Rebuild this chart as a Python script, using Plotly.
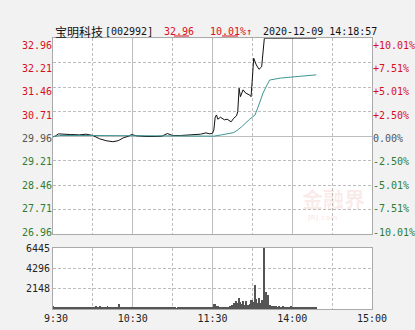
import plotly.graph_objects as go

# ---------------- data ----------------
stock_name = "宝明科技"
stock_code = "[002992]"
last_price = "32.96"
change_pct = "10.01%↑"
timestamp = "2020-12-09 14:18:57"
prev_close = 29.96

price_ticks = [26.96, 27.71, 28.46, 29.21, 29.96, 30.71, 31.46, 32.21, 32.96]
pct_labels = ["-10.01%", "-7.51%", "-5.01%", "-2.50%", "0.00%", "+2.50%", "+5.01%", "+7.51%", "+10.01%"]
vol_ticks = [2148, 4296, 6445]
time_tickvals = [0, 60, 120, 180, 240]
time_labels = ["\u00a09:30", "10:30", "11:30", "14:00", "15:00"]
time_minor = [30, 90, 150, 210]

# minute index (0 = 9:30, 120 = 11:30/13:00, 240 = 15:00)
price_t = [0, 2, 4, 8, 13, 20, 25, 30, 35, 40, 45, 49, 53, 57, 59, 63, 70, 78, 82, 86,
           90, 96, 103, 111, 115, 118, 120, 121, 122, 123, 124, 126, 129, 131, 134, 136, 138, 139, 140, 141,
           143, 145, 148, 149, 150, 151, 153, 154, 155, 157, 158, 159, 198]
price_v = [29.94, 29.97, 30.03, 30.03, 30.01, 30.00, 30.02, 29.98, 29.88, 29.82,
           29.79, 29.82, 29.91, 29.96, 30.01, 29.97, 29.95, 29.95, 29.96, 30.04,
           29.98, 29.98, 29.99, 30.02, 30.06, 30.03, 30.05, 30.15, 30.54, 30.61,
           30.48, 30.54, 30.46, 30.48, 30.40, 30.51, 30.58, 30.71, 31.43, 31.17,
           31.38, 31.28, 31.22, 31.17, 31.74, 32.35, 32.14, 32.09, 32.01, 32.09,
           32.45, 32.96, 32.96]

avg_t = [0, 5, 30, 60, 90, 120, 121, 127, 136, 139, 142, 148, 152, 154, 156, 158, 161, 163, 171, 186, 198]
avg_v = [29.94, 29.98, 29.98, 29.97, 29.96, 29.96, 29.96, 30.00, 30.07, 30.15, 30.25,
         30.48, 30.61, 30.82, 31.05, 31.28, 31.53, 31.68, 31.74, 31.79, 31.84]

vol_morning = [330, 260, 220, 200, 210, 190, 200, 180, 210, 220,
               190, 200, 170, 180, 210, 190, 200, 220, 180, 190,
               210, 230, 200, 250, 220, 240, 210, 260, 230, 220,
               250, 240, 270, 230, 260, 280, 250, 240, 260, 230,
               250, 270, 240, 260, 230, 220, 240, 250, 230, 260,
               560, 240, 230, 220, 210, 200, 220, 190, 210, 200,
               180, 190, 200, 170, 180, 190, 160, 180, 170, 150,
               160, 150, 140, 160, 150, 130, 140, 150, 120, 140,
               130, 150, 120, 140, 110, 130, 150, 120, 140, 130,
               110, 120, 140, 100, 130, 120, 110, 140, 120, 150,
               130, 120, 110, 140, 150, 130, 170, 120, 140, 160,
               150, 140, 170, 130, 160, 180, 150, 200, 170, 190,
               210]
vol_afternoon = [560, 480, 350, 300, 250, 200, 220, 180, 200, 230,
                 210, 260, 300, 350, 420, 630, 500, 810, 600, 1160,
                 700, 560, 810, 460, 810, 350, 420, 500, 990, 920,
                 700, 2570, 1060, 630, 1160, 600, 990, 700, 6445, 1760,
                 810, 1515, 460, 300, 280, 350, 260, 300, 240, 280,
                 220, 260, 300, 240, 220, 260, 200, 240, 280, 220,
                 260, 200, 240, 220, 260, 200, 230, 210, 250, 200,
                 220, 240, 200, 220, 180, 210, 190, 200]

volumes = vol_morning + vol_afternoon
vol_x = list(range(len(volumes)))

# ---------------- style ----------------
W, H = 415, 330
RED = "#d8101e"
GREEN = "#2f7d32"
GRAY_T = "#555555"
GRID = "#bdbdbd"
BORDER = "#aaaaaa"
MONO = "DejaVu Sans Mono"
CJK = "Noto Sans CJK SC"

def colored(v, text):
    if v > prev_close + 1e-9:
        c = RED
    elif v < prev_close - 1e-9:
        c = GREEN
    else:
        c = GRAY_T
    return f"<span style='color:{c}'>{text}</span>"

left_text = [colored(v, f"{v:.2f}") for v in price_ticks]
right_text = [colored(v, t) for v, t in zip(price_ticks, pct_labels)]
vol_text = [str(v) for v in vol_ticks]

xd = [53 / W, 372 / W]
price_dom = [1 - 234 / H, 1 - 38.3 / H]
vol_dom = [1 - 309 / H, 1 - 248 / H]

# label axes are slightly compressed relative to grid (labels sit inside the box)
pr_lo, pr_hi = price_ticks[0], price_ticks[-1]
lab_scale = (pr_hi - pr_lo) / (232 - 45)
lab_range = [pr_lo - (234 - 232) * lab_scale, pr_hi + (45 - 38.3) * lab_scale]

fig = go.Figure()
fig.add_trace(go.Scatter(x=price_t, y=price_v, mode="lines",
                         line=dict(color="#111111", width=1), xaxis="x", yaxis="y",
                         hoverinfo="skip"))
fig.add_trace(go.Scatter(x=avg_t, y=avg_v, mode="lines",
                         line=dict(color="#3f9494", width=1), xaxis="x", yaxis="y",
                         hoverinfo="skip"))
fig.add_trace(go.Bar(x=vol_x, y=volumes, width=0.75, marker=dict(color="#555555", line=dict(width=0)),
                     xaxis="x2", yaxis="y2", hoverinfo="skip"))
# empty traces that only register the two label axes
fig.add_trace(go.Scatter(x=[], y=[], xaxis="x", yaxis="y3", hoverinfo="skip"))
fig.add_trace(go.Scatter(x=[], y=[], xaxis="x", yaxis="y4", hoverinfo="skip"))

xcommon = dict(domain=xd, range=[0, 240], tickvals=time_tickvals, showgrid=True,
               gridcolor=GRID, gridwidth=1, zeroline=False, ticks="", automargin=False,
               showline=True, linecolor=BORDER, linewidth=1, mirror=True,
               minor=dict(tickvals=time_minor, showgrid=True, gridcolor=GRID,
                          griddash="3px,2px", gridwidth=1, ticks=""))

fig.update_layout(
    width=W, height=H, margin=dict(l=0, r=0, t=0, b=0, autoexpand=False),
    paper_bgcolor="#f2f2f2", plot_bgcolor="#ffffff",
    showlegend=False, bargap=0,
    xaxis=dict(anchor="y", showticklabels=False, **xcommon),
    xaxis2=dict(anchor="y2", showticklabels=True, ticktext=time_labels,
                tickfont=dict(family=MONO, size=10, color="#222222"), **xcommon),
    yaxis=dict(domain=price_dom, anchor="x", range=[pr_lo, pr_hi], tickvals=[prev_close],
               showticklabels=False, showgrid=True, gridcolor=GRID, gridwidth=1, automargin=False,
               zeroline=False, ticks="", showline=True, linecolor=BORDER, mirror=True,
               minor=dict(tickvals=price_ticks, showgrid=True, gridcolor=GRID,
                          griddash="3px,2px", gridwidth=1, ticks="")),
    yaxis3=dict(overlaying="y", anchor="x", side="left", range=lab_range, automargin=False,
                tickvals=price_ticks, ticktext=left_text, showgrid=False, zeroline=False,
                showline=False, ticks="", tickfont=dict(family=MONO, size=10)),
    yaxis4=dict(overlaying="y", anchor="x", side="right", range=lab_range, automargin=False,
                tickvals=price_ticks, ticktext=right_text, showgrid=False, zeroline=False,
                showline=False, ticks="", tickfont=dict(family=MONO, size=10)),
    yaxis2=dict(domain=vol_dom, anchor="x2", range=[0, vol_ticks[-1]], tickvals=vol_ticks,
                ticktext=vol_text, showgrid=True, gridcolor=GRID, griddash="3px,2px", automargin=False,
                zeroline=False, ticks="", showline=True, linecolor=BORDER, mirror=True,
                tickfont=dict(family=MONO, size=10, color="#222222")),
)

# header
hy = 1 - 31 / H
fig.add_annotation(x=53 / W, y=hy, xref="paper", yref="paper", xanchor="left", yanchor="middle",
                   text=stock_name, showarrow=False, font=dict(family=CJK, size=12, color="#111111"))
fig.add_annotation(x=103 / W, y=hy, xref="paper", yref="paper", xanchor="left", yanchor="middle",
                   text=stock_code, showarrow=False, font=dict(family=MONO, size=10, color="#111111"))
fig.add_annotation(x=162 / W, y=hy, xref="paper", yref="paper", xanchor="left", yanchor="middle",
                   text=last_price, showarrow=False, font=dict(family=MONO, size=10, color=RED))
fig.add_annotation(x=208 / W, y=hy, xref="paper", yref="paper", xanchor="left", yanchor="middle",
                   text=change_pct, showarrow=False, font=dict(family=MONO, size=10, color=RED))
fig.add_annotation(x=261 / W, y=hy, xref="paper", yref="paper", xanchor="left", yanchor="middle",
                   text=timestamp, showarrow=False, font=dict(family=MONO, size=10, color="#111111"))
fig.add_shape(type="line", xref="paper", yref="paper", x0=174 / W, x1=189 / W,
              y0=1 - 36 / H, y1=1 - 36 / H, line=dict(color=RED, width=1))
fig.add_shape(type="line", xref="paper", yref="paper", x0=222 / W, x1=238 / W,
              y0=1 - 36 / H, y1=1 - 36 / H, line=dict(color=RED, width=1))

# watermark
fig.add_annotation(x=333 / W, y=1 - 198 / H, xref="paper", yref="paper", xanchor="center",
                   yanchor="middle", text="<b>金融界</b>", showarrow=False,
                   font=dict(family=CJK, size=21, color="rgba(225,130,130,0.16)"))
fig.add_annotation(x=322 / W, y=1 - 218 / H, xref="paper", yref="paper", xanchor="center",
                   yanchor="middle", text="<b>JRJ.com</b>", showarrow=False,
                   font=dict(family="DejaVu Sans", size=7, color="rgba(225,130,130,0.16)"))

fig.write_html("out.html")
